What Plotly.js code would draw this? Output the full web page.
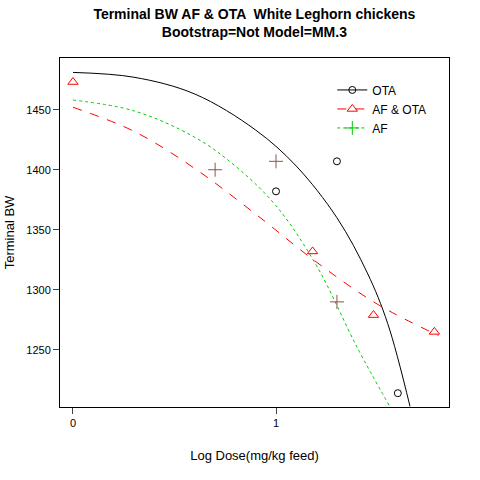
<!DOCTYPE html>
<html><head><script src="https://cdn.plot.ly/plotly-3.0.1.min.js"></script></head>
<body style="margin:0"><div id="plot" style="width:480px;height:480px"></div>
<script>
// observed points
var otaX = [1, 1.3, 1.6];
var otaY = [1382, 1407, 1214];
var bothX = [0, 1.18, 1.48, 1.78];
var bothY = [1473, 1332, 1279, 1265];
var afX = [0.7, 1, 1.3];
var afY = [1400, 1407, 1290];
// fitted curves
var otaFitX = [0, 0.3, 0.6, 0.9, 1.1, 1.3, 1.45, 1.55, 1.66];
var otaFitY = [1481, 1477, 1463, 1433, 1403, 1360, 1314, 1272, 1203];
var bothFitX = [0, 0.3, 0.6, 0.9, 1.2, 1.5, 1.8];
var bothFitY = [1452, 1432, 1401, 1363, 1323, 1288, 1262];
var afFitX = [0, 0.3, 0.6, 0.8, 1, 1.2, 1.4, 1.56];
var afFitY = [1458, 1449, 1427, 1403, 1370, 1320, 1252, 1203];
var names = ["OTA", "AF & OTA", "AF"];

var otaLine = {color: "black", width: 1};
var bothLine = {color: "red", width: 1, dash: "dash"};
var afLine = {color: "#00cc00", width: 1, dash: "dot"};
var otaMk = {symbol: "circle-open", size: 7, color: "black"};
var bothMk = {symbol: "triangle-up-open", size: 9, color: "red"};
var afMk = {symbol: "cross-thin-open", size: 10, color: "#00cc00", line: {width: 1, color: "#00cc00"}};

var data = [
  {x: otaFitX, y: otaFitY, mode: "lines", line: Object.assign({shape: "spline"}, otaLine), showlegend: false},
  {x: bothFitX, y: bothFitY, mode: "lines", line: Object.assign({shape: "spline"}, bothLine), showlegend: false},
  {x: afFitX, y: afFitY, mode: "lines", line: Object.assign({shape: "spline"}, afLine), showlegend: false},
  {x: otaX, y: otaY, mode: "markers", marker: otaMk, showlegend: false},
  {x: bothX, y: bothY, mode: "markers", marker: bothMk, showlegend: false},
  {x: afX, y: afY, mode: "markers", showlegend: false,
   marker: {symbol: "cross-thin-open", size: 10, line: {width: 1, color: ["#555555", "#00cc00", "#00cc00"]}}},
  // legend entries
  {x: [null], y: [null], name: names[0], mode: "lines+markers", line: otaLine, marker: otaMk},
  {x: [null], y: [null], name: names[1], mode: "lines+markers", line: bothLine, marker: bothMk},
  {x: [null], y: [null], name: names[2], mode: "lines+markers", line: afLine, marker: afMk}
];

var layout = {
  width: 480, height: 480,
  margin: {l: 60, r: 31, t: 58, b: 73},
  font: {family: "Liberation Sans, Arial", size: 11, color: "black"},
  title: {text: "<b>Terminal BW AF & OTA  White Leghorn chickens<br>Bootstrap=Not Model=MM.3</b>", x: 0.53, y: 0.96, font: {size: 14}},
  xaxis: {range: [-0.064, 1.852], tickvals: [0, 1], ticktext: ["0", "1"], showgrid: false, zeroline: false,
    showline: true, mirror: true, linecolor: "black", ticks: "outside", ticklen: 6,
    title: {text: "Log Dose(mg/kg feed)", standoff: 22}},
  yaxis: {range: [1202.5, 1493], tickvals: [1250, 1300, 1350, 1400, 1450], showgrid: false, zeroline: false,
    showline: true, mirror: true, linecolor: "black", ticks: "outside", ticklen: 6,
    title: {text: "Terminal BW", standoff: 8}},
  legend: {x: 0.7, y: 0.95, bgcolor: "rgba(0,0,0,0)", font: {size: 12}, tracegroupgap: 0},
  plot_bgcolor: "white", paper_bgcolor: "white"
};
Plotly.newPlot("plot", data, layout, {displayModeBar: false});
</script></body></html>
